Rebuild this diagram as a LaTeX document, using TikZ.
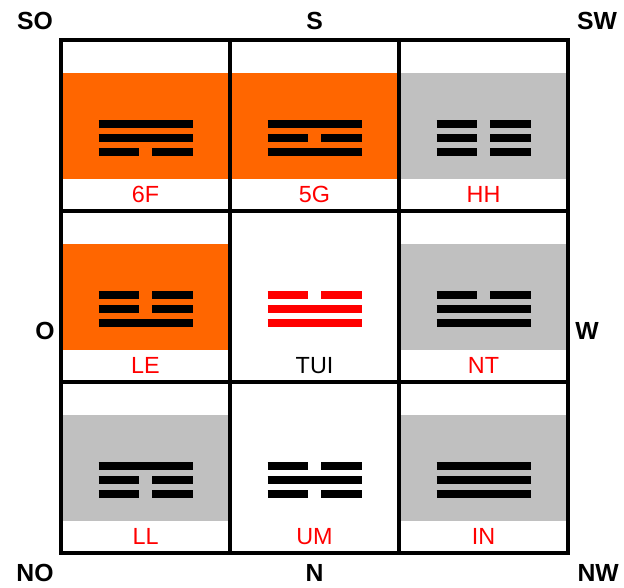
\documentclass[tikz,border=0pt]{standalone}
\usepackage{fontspec}
\setmainfont{Liberation Sans}
\definecolor{guaorange}{HTML}{FF6600}
\definecolor{guagray}{HTML}{C0C0C0}
\tikzset{
  yaoline/.style={line width=3.6pt},
  guaname/.style={red,font=\fontsize{11.8}{14}\selectfont},
  compass/.style={font=\fontsize{12.5}{14}\selectfont\bfseries},
}
% one line of a trigram: centre x, y, 1 = solid / 0 = broken
\newcommand{\yao}[3]{%
  \ifnum#3=1
    \draw[yaoline] (#1-0.278,#2) -- (#1+0.278,#2);
  \else
    \draw[yaoline] (#1-0.278,#2) -- (#1-0.041,#2);
    \draw[yaoline] (#1+0.041,#2) -- (#1+0.278,#2);
  \fi}
% column, row, top, middle, bottom line
\newcommand{\trigram}[5]{%
  \yao{#1+0.5}{#2+0.509}{#3}
  \yao{#1+0.5}{#2+0.427}{#4}
  \yao{#1+0.5}{#2+0.345}{#5}}
\begin{document}
\begin{tikzpicture}[x=3cm,y=3.035cm]
        \useasboundingbox (-0.361,-0.199) rectangle (3.331,3.234);
        % bands
        \fill[guaorange] (0,2.187) rectangle (1,2.807);
        \fill[guaorange] (1,2.187) rectangle (2,2.807);
        \fill[guagray] (2,2.187) rectangle (3,2.807);
        \fill[guaorange] (0,1.187) rectangle (1,1.807);
        \fill[guagray] (2,1.187) rectangle (3,1.807);
        \fill[guagray] (0,0.187) rectangle (1,0.807);
        \fill[guagray] (2,0.187) rectangle (3,0.807);

        \draw[line width=1.6pt] (0,0) rectangle (3,3);
        \draw[line width=1.6pt] (1,0) -- (1,3);
        \draw[line width=1.6pt] (2,0) -- (2,3);
        \draw[line width=1.6pt] (0,1) -- (3,1);
        \draw[line width=1.6pt] (0,2) -- (3,2);

        % trigrams
        \trigram{0}{2}{1}{1}{0}
        \trigram{1}{2}{1}{0}{1}
        \trigram{2}{2}{0}{0}{0}
        \trigram{0}{1}{0}{0}{1}
        \begin{scope}[red]
        \trigram{1}{1}{0}{1}{1}
        \end{scope}
        \trigram{2}{1}{0}{1}{1}
        \trigram{0}{0}{1}{0}{0}
        \trigram{1}{0}{0}{1}{0}
        \trigram{2}{0}{1}{1}{1}

        \node[guaname] (f6) at (0.5,2.094) {6F};
        \node[guaname] (g5) at (1.5,2.094) {5G};
        \node[guaname] (hh) at (2.5,2.094) {HH};
        \node[guaname] (le) at (0.5,1.094) {LE};
        \node[guaname,black] (tui) at (1.5,1.094) {TUI};
        \node[guaname] (nt) at (2.5,1.094) {NT};
        \node[guaname] (ll) at (0.5,0.094) {LL};
        \node[guaname] (um) at (1.5,0.094) {UM};
        \node[guaname] (in) at (2.5,0.094) {IN};

        \node[compass] (so) at (-0.154,3.111) {SO};
        \node[compass] (s) at (1.5,3.111) {S};
        \node[compass] (sw) at (3.172,3.111) {SW};
        \node[compass] (o) at (-0.095,1.298) {O};
        \node[compass] (w) at (3.112,1.298) {W};
        \node[compass] (no) at (-0.154,-0.117) {NO};
        \node[compass] (n) at (1.5,-0.117) {N};
        \node[compass] (nw) at (3.178,-0.117) {NW};
\end{tikzpicture}
\end{document}
